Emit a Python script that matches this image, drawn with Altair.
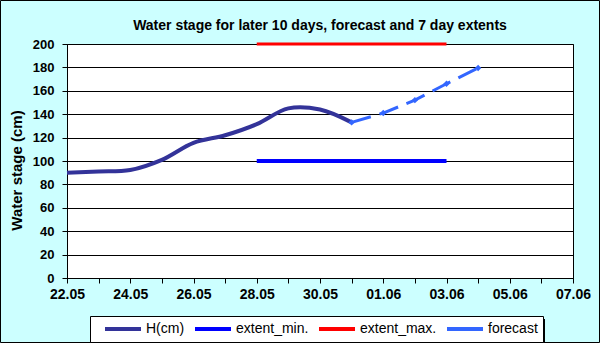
import altair as alt
import pandas as pd

# ---- data ----
h_dates = ["2011-05-22", "2011-05-23", "2011-05-24", "2011-05-25", "2011-05-26",
           "2011-05-27", "2011-05-28", "2011-05-29", "2011-05-30", "2011-05-31"]
h_values = [90, 91, 92.3, 101, 115.5, 122, 131.5, 145, 144, 133]

fc_dates = ["2011-05-31", "2011-06-01", "2011-06-02", "2011-06-03", "2011-06-04"]
fc_values = [133, 141, 152, 166, 179.5]

ext_dates = ["2011-05-28", "2011-06-03"]
ext_min = [100, 100]
ext_max = [200, 200]

series_names = ["H(cm)", "extent_min.", "extent_max.", "forecast"]
series_colors = ["#333399", "#0000FF", "#FF0000", "#3366FF"]

x_labels = ["22.05", "24.05", "26.05", "28.05", "30.05", "01.06", "03.06", "05.06", "07.06"]
y_ticks = [0, 20, 40, 60, 80, 100, 120, 140, 160, 180, 200]
x_start, x_end = "2011-05-22", "2011-06-07"

FONT = "Liberation Sans"

df_h = pd.DataFrame({"date": h_dates, "value": h_values, "series": series_names[0]})
df_min = pd.DataFrame({"date": ext_dates, "value": ext_min, "series": series_names[1]})
df_max = pd.DataFrame({"date": ext_dates, "value": ext_max, "series": series_names[2]})
df_fc = pd.DataFrame({"date": fc_dates, "value": fc_values, "series": series_names[3]})

day_ticks = [int(t.timestamp() * 1000) for t in pd.date_range(x_start, x_end, freq="D", tz="UTC")]
x_dom = [day_ticks[0], day_ticks[-1]]

label_list = "[" + ",".join("'%s'" % s for s in x_labels) + "]"
label_expr = ("indexof(%s, utcFormat(datum.value, '%%d.%%m')) >= 0 ? utcFormat(datum.value, '%%d.%%m') : ''"
              % label_list)

x_enc = alt.X(
    "date:T",
    scale=alt.Scale(type="utc", domain=x_dom),
    axis=alt.Axis(
        values=day_ticks, labelExpr=label_expr, grid=False, tickSize=5,
        tickColor="black", domainColor="black", labelFont=FONT, labelFontSize=14,
        labelFontWeight="bold", labelColor="black", labelPadding=4, labelAngle=0,
        labelOverlap=False, labelFlush=False,
    ),
    title=None,
)
y_enc = alt.Y(
    "value:Q",
    scale=alt.Scale(domain=[0, 200], nice=False),
    axis=alt.Axis(
        values=y_ticks, grid=True, gridColor="black", gridOpacity=1, gridWidth=1,
        tickSize=5, tickColor="black", domainColor="black", labelFont=FONT,
        labelFontSize=13, labelFontWeight="bold", labelColor="black", labelPadding=8,
        title="Water stage (cm)", titleFont=FONT, titleFontSize=15, titleFontWeight="bold",
        titleColor="black", titleX=-43, titleY=126, titleAngle=-90, titleAlign="center",
        titleBaseline="bottom",
    ),
)
# stroke symbol: size 144 -> unit = 6px; path from -1 to 5 units = 36px wide
color_enc = alt.Color(
    "series:N",
    scale=alt.Scale(domain=series_names, range=series_colors),
    legend=alt.Legend(
        title=None, orient="none", legendX=23, legendY=272, direction="horizontal",
        columns=4, symbolType="M-1,0H5", symbolSize=144, symbolStrokeWidth=4,
        symbolOffset=8,
        labelFont=FONT, labelFontSize=14, labelColor="black", labelOffset=27,
        columnPadding=-4, padding=5, fillColor="white", strokeColor="black",
        labelLimit=300,
    ),
)

h_line = alt.Chart(df_h).mark_line(interpolate="catmull-rom", strokeWidth=4).encode(
    x=x_enc, y=y_enc, color=color_enc)
min_line = alt.Chart(df_min).mark_line(strokeWidth=4).encode(x=x_enc, y=y_enc, color=color_enc)
max_line = alt.Chart(df_max).mark_line(strokeWidth=3).encode(x=x_enc, y=y_enc, color=color_enc)
fc_line = alt.Chart(df_fc).mark_line(strokeWidth=3, strokeDash=[20, 9]).encode(
    x=x_enc, y=y_enc, color=color_enc)
fc_pts = alt.Chart(df_fc).mark_point(shape="diamond", filled=True, size=40, opacity=1).encode(
    x=x_enc, y=y_enc, color=alt.value(series_colors[3]))

one = alt.Data(values=[{"k": 1}])
shadow = alt.Chart(one).mark_rect(fill="black").encode(
    x=alt.value(26), x2=alt.value(478), y=alt.value(275), y2=alt.value(298))
frame = alt.Chart(one).mark_rect(fill="transparent", stroke="black", strokeWidth=1).encode(
    x=alt.value(-66.5), x2=alt.value(532.5), y=alt.value(-43.5), y2=alt.value(298.5))

chart = alt.layer(shadow, h_line, min_line, max_line, fc_line, fc_pts, frame).properties(
    width=506, height=234,
    padding={"left": 67, "top": 44, "right": 27, "bottom": 65},
    autosize=alt.AutoSizeParams(type="none"),
    title=alt.Title("Water stage for later 10 days, forecast and 7 day  extents",
                    font=FONT, fontSize=14, fontWeight="bold", color="black",
                    anchor="middle", offset=12, frame="group", dy=45),
).configure(background="#CCFFFF").configure_view(fill="white", stroke="black", strokeWidth=1)

chart.save("out.html", embed_options={"renderer": "svg", "actions": False})
